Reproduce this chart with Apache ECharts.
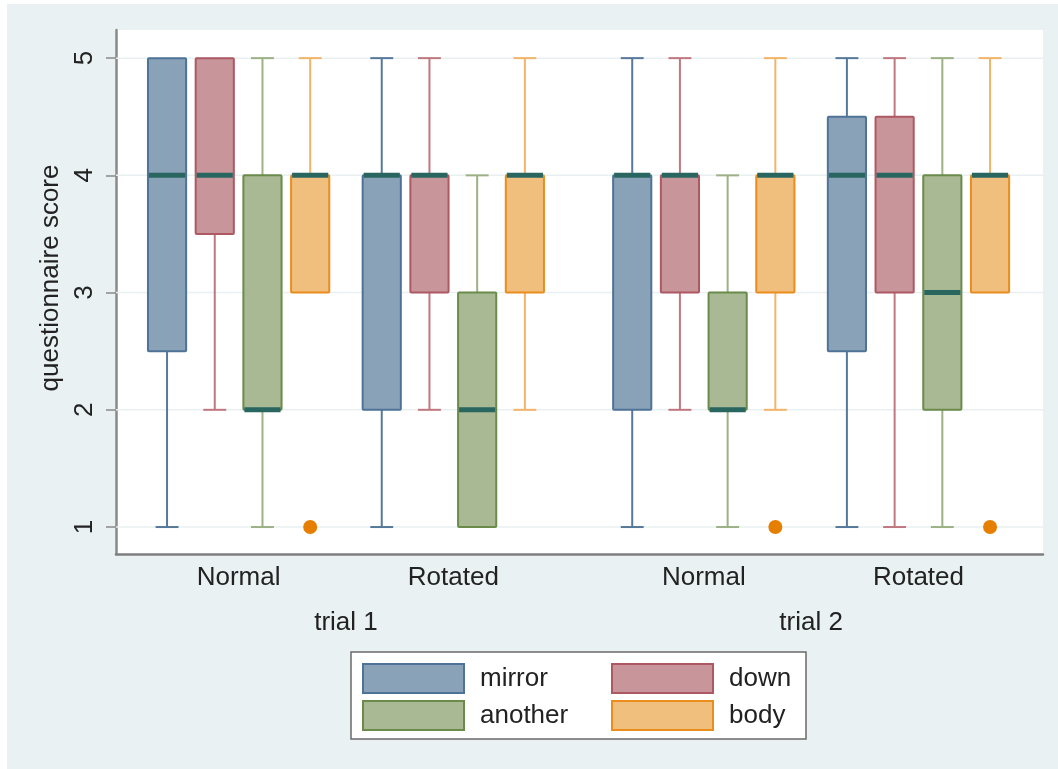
<!DOCTYPE html>
<html>
<head>
<meta charset="utf-8">
<script src="https://cdn.jsdelivr.net/npm/echarts@6/dist/echarts.min.js"></script>
<style>
html,body{margin:0;padding:0;background:#ffffff;}
#chart{width:1058px;height:769px;}
</style>
</head>
<body>
<div id="chart"></div>
<script>
// ---- data ----
const groupLabels = ['Normal', 'Rotated', 'Normal', 'Rotated'];
const trialLabels = ['trial 1', 'trial 2'];
const seriesNames = ['mirror', 'down', 'another', 'body'];
const yTicks = [1, 2, 3, 4, 5];
// [min, q1, median, q3, max] per group
const mirrorStats  = [[1, 2.5, 4, 5, 5], [1, 2, 4, 4, 5], [1, 2, 4, 4, 5], [1, 2.5, 4, 4.5, 5]];
const downStats    = [[2, 3.5, 4, 5, 5], [2, 3, 4, 4, 5], [2, 3, 4, 4, 5], [1, 3, 4, 4.5, 5]];
const anotherStats = [[1, 2, 2, 4, 5], [1, 1, 2, 3, 4], [1, 2, 2, 3, 4], [1, 2, 3, 4, 5]];
const bodyStats    = [[3, 3, 4, 4, 5], [2, 3, 4, 4, 5], [2, 3, 4, 4, 5], [3, 3, 4, 4, 5]];
// outliers of "body": [groupIndex, value]
const bodyOutliers = [[0, 1], [2, 1], [3, 1]];

// ---- layout / style ----
const groupStart = [0, 4.5, 9.75, 14.25];
const trialGroups = [[0, 1], [2, 3]];
const fills   = ['#8aa2b8', '#c8969a', '#a9b993', '#f0bf7e'];
const strokes = ['#4f7396', '#ad5863', '#6b8b4b', '#ea8d1c'];
const whisk   = ['#56799b', '#c07880', '#9cb184', '#f2b36a'];
const medianColor = '#2a6660';
const allStats = [mirrorStats, downStats, anotherStats, bodyStats];

const groupCenters = groupStart.map(s => s + 1.5);
const trialCenters = trialGroups.map(g => (groupStart[g[0]] + groupStart[g[1]] + 3) / 2);
const FONT = '"Liberation Sans", Arial, Helvetica, sans-serif';
const FS = 26;

function labelFor(list, arr, v) {
  let best = 0;
  arr.forEach((c, i) => { if (Math.abs(c - v) < Math.abs(arr[best] - v)) best = i; });
  return list[best];
}

function makeRender(si) {
  return function (params, api) {
    const x = api.value(0);
    const p = v => api.coord([x, v]);
    const vMin = api.value(1), vQ1 = api.value(2), vMed = api.value(3), vQ3 = api.value(4), vMax = api.value(5);
    const w = api.size([0.8, 0])[0];
    const cap = api.size([0.48, 0])[0];
    const cx = p(vMed)[0];
    const yMin = p(vMin)[1], yQ1 = p(vQ1)[1], yMed = p(vMed)[1], yQ3 = p(vQ3)[1], yMax = p(vMax)[1];
    const children = [];
    const wl = { stroke: whisk[si], lineWidth: 2 };
    if (vMax > vQ3) {
      children.push({ type: 'line', shape: { x1: cx, y1: yQ3, x2: cx, y2: yMax }, style: wl });
      children.push({ type: 'line', shape: { x1: cx - cap / 2, y1: yMax, x2: cx + cap / 2, y2: yMax }, style: wl });
    }
    if (vMin < vQ1) {
      children.push({ type: 'line', shape: { x1: cx, y1: yQ1, x2: cx, y2: yMin }, style: wl });
      children.push({ type: 'line', shape: { x1: cx - cap / 2, y1: yMin, x2: cx + cap / 2, y2: yMin }, style: wl });
    }
    children.push({
      type: 'rect',
      shape: { x: cx - w / 2, y: yQ3, width: w, height: yQ1 - yQ3, r: 1 },
      style: { fill: fills[si], stroke: strokes[si], lineWidth: 2 }
    });
    children.push({
      type: 'line', z2: 10,
      shape: { x1: cx - w / 2 + 1, y1: yMed, x2: cx + w / 2 - 1, y2: yMed },
      style: { stroke: medianColor, lineWidth: 5 }
    });
    return { type: 'group', children: children };
  };
}

const series = [];
// horizontal grid lines at the y ticks
series.push({
  type: 'custom', name: '_grid', z: 1, silent: true,
  renderItem: function (params, api) {
    const cs = params.coordSys;
    const y = api.coord([0, api.value(0)])[1];
    return { type: 'line', shape: { x1: cs.x, y1: y, x2: cs.x + cs.width, y2: y },
             style: { stroke: '#e8f0f1', lineWidth: 1.5 } };
  },
  encode: { y: 0 },
  data: yTicks.map(v => [v])
});
seriesNames.forEach((name, si) => {
  series.push({
    type: 'custom', name: name, z: 3,
    renderItem: makeRender(si),
    itemStyle: { color: fills[si], borderColor: strokes[si], borderWidth: 2 },
    encode: { x: 0, y: [1, 2, 3, 4, 5] },
    data: allStats[si].map((s, g) => [groupStart[g] + si].concat(s))
  });
});
series.push({
  type: 'scatter', name: 'body outliers', z: 4,
  symbol: 'circle', symbolSize: 14,
  itemStyle: { color: '#e67e00', opacity: 1 },
  data: bodyOutliers.map(o => [groupStart[o[0]] + 3, o[1]])
});

const legendPos = [[357, 658], [606, 658], [357, 695], [606, 695]];
const legends = seriesNames.map((name, si) => ({
  left: legendPos[si][0], top: legendPos[si][1],
  data: [{ name: name, itemStyle: { color: fills[si], borderColor: strokes[si], borderWidth: 2 } }],
  icon: 'rect', itemWidth: 101, itemHeight: 29, itemGap: 0,
  selectedMode: false,
  textStyle: { fontSize: FS, fontFamily: FONT, color: '#222', padding: [0, 0, 0, 11] }
}));

const chart = echarts.init(document.getElementById('chart'), null, { renderer: 'canvas' });
chart.setOption({
  backgroundColor: '#ffffff',
  animation: false,
  textStyle: { fontFamily: FONT },
  graphic: [
    { type: 'rect', z: -10, shape: { x: 7, y: 4, width: 1051, height: 765 }, style: { fill: '#e9f1f3' } },
    { type: 'rect', z: 1, shape: { x: 351, y: 652, width: 455, height: 87 }, style: { fill: '#ffffff', stroke: '#6a6a6a', lineWidth: 1.5 } }
  ],
  legend: legends,
  grid: { left: 116, right: 15, top: 30, bottom: 215, show: true, backgroundColor: '#ffffff', borderWidth: 0 },
  xAxis: [
    {
      type: 'value', min: -1.07, max: 18.36, position: 'bottom',
      axisLine: { show: true, onZero: false, lineStyle: { color: '#7f7f7f', width: 2.5 } },
      axisTick: { show: false },
      splitLine: { show: false },
      axisLabel: {
        customValues: groupCenters, margin: 11, fontSize: FS, color: '#222', fontFamily: FONT,
        formatter: v => labelFor(groupLabels, groupCenters, v)
      }
    },
    {
      type: 'value', min: -1.07, max: 18.36, position: 'bottom', offset: 45,
      axisLine: { show: false }, axisTick: { show: false }, splitLine: { show: false },
      axisLabel: {
        customValues: trialCenters, margin: 11, fontSize: FS, color: '#222', fontFamily: FONT,
        formatter: v => labelFor(trialLabels, trialCenters, v)
      }
    }
  ],
  yAxis: {
    type: 'value', min: 0.77, max: 5.24,
    name: 'questionnaire score', nameLocation: 'middle', nameRotate: 90, nameGap: 50,
    nameTextStyle: { fontSize: FS, color: '#222', fontFamily: FONT, padding: [0, 0, 0, 28] },
    axisLine: { show: true, onZero: false, lineStyle: { color: '#8a8a8a', width: 2.5 } },
    axisTick: { show: true, customValues: yTicks, length: 10, lineStyle: { color: '#8a8a8a', width: 1.5 } },
    axisLabel: { customValues: yTicks, rotate: 90, margin: 18, fontSize: FS, color: '#222', fontFamily: FONT },
    splitLine: { show: false }
  },
  series: series
});
</script>
</body>
</html>
